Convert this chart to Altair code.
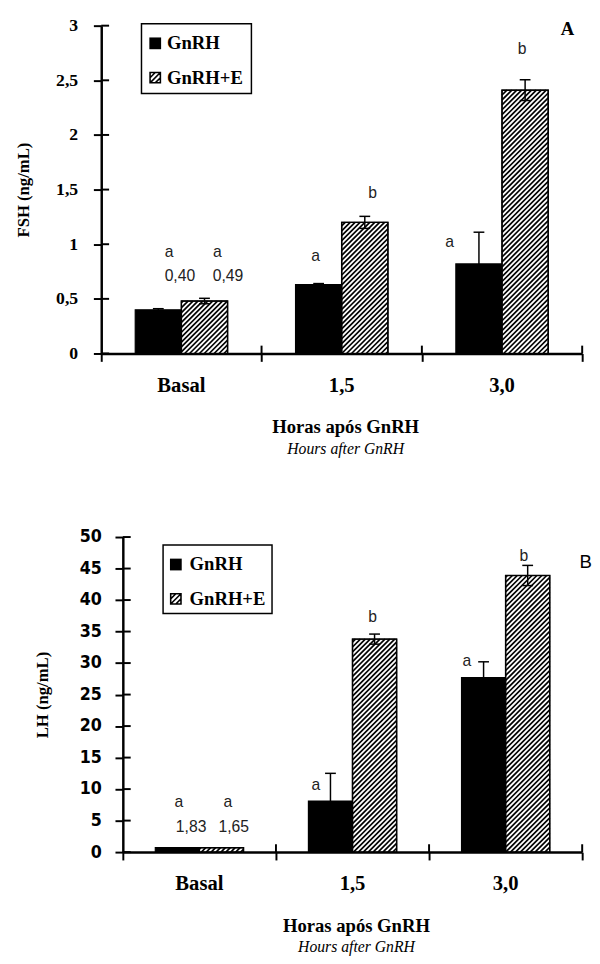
import math
import altair as alt
import pandas as pd

# ---------------- data ----------------
categories = ["Basal", "1,5", "3,0"]
groups = ["GnRH", "GnRH+E"]

fsh_gnrh = [0.40, 0.63, 0.82]
fsh_gnrh_err = [0.01, 0.01, 0.29]
fsh_gnrhe = [0.48, 1.20, 2.41]
fsh_gnrhe_err = [0.025, 0.055, 0.095]
fsh_letters_gnrh = ["a", "a", "a"]
fsh_letters_gnrhe = ["a", "b", "b"]
fsh_letter_y_gnrh = [0.93, 0.89, 1.02]
fsh_letter_y_gnrhe = [0.93, 1.47, 2.79]
fsh_basal_means = ["0,40", "0,49"]
fsh_basal_mean_y = 0.71
fsh_ticks = [0, 0.5, 1, 1.5, 2, 2.5, 3]

lh_gnrh = [0.7, 8.1, 27.7]
lh_gnrh_err = [0, 4.4, 2.5]
lh_gnrhe = [0.7, 33.8, 43.9]
lh_gnrhe_err = [0, 0.8, 1.6]
lh_letters_gnrh = ["a", "a", "a"]
lh_letters_gnrhe = ["a", "b", "b"]
lh_letter_y_gnrh = [7.9, 10.7, 30.3]
lh_letter_y_gnrhe = [7.9, 37.3, 47.0]
lh_basal_means = ["1,83", "1,65"]
lh_basal_mean_y = 4.0
lh_ticks = [0, 5, 10, 15, 20, 25, 30, 35, 40, 45, 50]

x_title = "Horas após GnRH"
x_subtitle = "Hours after GnRH"

# ---------------- styling / layout ----------------
SERIF = "Liberation Serif"
SANS = "Liberation Sans"
NARROW = "Liberation Sans Narrow, Arial Narrow, DejaVu Sans Condensed, sans-serif"
BAR_W = 0.288          # bar width as fraction of a category
PERIOD = 5.0           # hatch period, px
W = 490


def panel(gnrh, gnrh_err, gnrhe, gnrhe_err, let_g, let_e, ly_g, ly_e,
          basal_means, basal_mean_y, ticks, ymax, H, r0, ytitle, tag,
          tick_font, tick_size, letter_dx_g, letter_dx_e, mean_dx,
          leg, tag_pos, title_pad, label_pad):
    pxx = (W - r0) / 3.0
    pxy = H / ymax
    xs = alt.Scale(domain=[0, 3], range=[r0, W], nice=False, zero=False)
    ys = alt.Scale(domain=[0, ymax], nice=False)
    label_expr = "replace(format(datum.value, '~g'), '.', ',')"
    xax = alt.Axis(values=[0, 1, 2, 3], labels=False, title=None, grid=False,
                   tickSize=8, tickWidth=2, domainWidth=2.5,
                   domainColor="black", tickColor="black")
    yax = alt.Axis(values=ticks, labelExpr=label_expr, title=ytitle, grid=False,
                   tickSize=8, tickWidth=2, domainWidth=2.5, offset=-r0,
                   domainColor="black", tickColor="black",
                   labelFont=tick_font, labelFontSize=tick_size, labelFontWeight="bold",
                   labelColor="black", labelPadding=label_pad,
                   titleFont=SERIF, titleFontSize=17, titleFontWeight="bold",
                   titleColor="black", titlePadding=title_pad)

    def X(f):
        return alt.X(f, scale=xs, axis=xax)

    def Y(f):
        return alt.Y(f, scale=ys, axis=yax)

    rows = []
    for i, cat in enumerate(categories):
        for g, vals, errs, lets, lys, dxs in (
            ("GnRH", gnrh, gnrh_err, let_g, ly_g, letter_dx_g),
            ("GnRH+E", gnrhe, gnrhe_err, let_e, ly_e, letter_dx_e),
        ):
            x0 = i + 0.5 - BAR_W if g == "GnRH" else i + 0.5
            x1 = x0 + BAR_W
            xc = (x0 + x1) / 2
            v, e = vals[i], errs[i]
            rows.append(dict(cat=cat, group=g, x0=x0, x1=x1, xc=xc, v=v, e=e, zero=0.0,
                             lo=v - e, hi=v + e,
                             cl=xc - 5.5 / pxx, cr=xc + 5.5 / pxx,
                             letter=lets[i], ly=lys[i], lx=xc + dxs[i] / pxx))
    df = pd.DataFrame(rows)

    # hatch segments (45 degree "/" lines) for GnRH+E bars
    segs = []
    for r in rows:
        if r["group"] != "GnRH+E":
            continue
        X0, X1, Ht = r["x0"] * pxx, r["x1"] * pxx, r["v"] * pxy
        k0 = math.ceil((X0 - Ht) / PERIOD)
        k1 = math.floor(X1 / PERIOD)
        for k in range(k0, k1 + 1):
            c = k * PERIOD
            xa, xb = max(X0, c), min(X1, c + Ht)
            if xb - xa > 0.3:
                segs.append(dict(x=xa / pxx, y=(xa - c) / pxy,
                                 x2=xb / pxx, y2=(xb - c) / pxy))
    hdf = pd.DataFrame(segs)

    base = alt.Chart(df)
    bars = base.mark_bar(stroke="black", strokeWidth=1.2).encode(
        x=X("x0:Q"), x2="x1:Q", y=Y("v:Q"), y2="zero:Q",
        fill=alt.Fill("group:N", scale=alt.Scale(domain=groups, range=["black", "white"]),
                      legend=None),
    )
    hatch = alt.Chart(hdf).mark_rule(color="black", strokeWidth=1.7).encode(
        x=X("x:Q"), y=Y("y:Q"), x2="x2:Q", y2="y2:Q")
    outline = base.transform_filter(alt.datum.group == "GnRH+E").mark_bar(
        fillOpacity=0, stroke="black", strokeWidth=1.5).encode(
        x=X("x0:Q"), x2="x1:Q", y=Y("v:Q"), y2="zero:Q")
    errdf = base.transform_filter(alt.datum.e > 0)
    err = errdf.mark_rule(color="black", strokeWidth=1.5).encode(
        x=X("xc:Q"), y=Y("lo:Q"), y2="hi:Q")
    cap_hi = errdf.mark_rule(color="black", strokeWidth=1.5).encode(
        x=X("cl:Q"), x2="cr:Q", y=Y("hi:Q"))
    cap_lo = errdf.mark_rule(color="black", strokeWidth=1.5).encode(
        x=X("cl:Q"), x2="cr:Q", y=Y("lo:Q"))
    letters = base.mark_text(font=SANS, fontSize=16, color="#222",
                             baseline="middle").encode(
        x=X("lx:Q"), y=Y("ly:Q"), text="letter:N")

    mdf = pd.DataFrame(dict(t=basal_means, x=[rows[0]["xc"] + mean_dx[0] / pxx,
                                               rows[1]["xc"] + mean_dx[1] / pxx],
                            y=[basal_mean_y] * 2))
    means = alt.Chart(mdf).mark_text(font=SANS, fontSize=16, color="#222",
                                     baseline="middle").encode(
        x=X("x:Q"), y=Y("y:Q"), text="t:N")

    tdf = pd.DataFrame(dict(t=ticks))
    inner_y = alt.Chart(tdf).mark_rule(color="black", strokeWidth=2).encode(
        x=alt.value(r0), x2=alt.value(r0 + 8), y=Y("t:Q"))
    bdf = pd.DataFrame(dict(b=[1, 2, 3]))
    inner_x = alt.Chart(bdf).mark_rule(color="black", strokeWidth=2).encode(
        x=X("b:Q"), y=alt.value(H - 8), y2=alt.value(H))

    cdf = pd.DataFrame(dict(c=categories, x=[0.5, 1.5, 2.5]))
    cat_labels = alt.Chart(cdf).mark_text(font=SERIF, fontSize=21, fontWeight="bold",
                                          baseline="middle", color="black").encode(
        x=X("x:Q"), y=alt.value(H + 33), text="c:N")

    xmid = (r0 + W) / 2 + 4
    xt = alt.Chart(pd.DataFrame(dict(t=[x_title]))).mark_text(
        font=SERIF, fontSize=19, fontWeight="bold", baseline="middle", color="black").encode(
        x=alt.value(xmid), y=alt.value(H + 75), text="t:N")
    xst = alt.Chart(pd.DataFrame(dict(t=[x_subtitle]))).mark_text(
        font=SERIF, fontSize=16, fontStyle="italic", baseline="middle", color="black").encode(
        x=alt.value(xmid), y=alt.value(H + 97), text="t:N")

    lx0, lx1, ly0, ly1, sqx, tx, y1, y2 = leg
    box = alt.Chart(pd.DataFrame(dict(k=[0]))).mark_rect(
        fill="white", stroke="black", strokeWidth=1.5).encode(
        x=alt.value(lx0), x2=alt.value(lx1), y=alt.value(ly0), y2=alt.value(ly1))
    sq1 = alt.Chart(pd.DataFrame(dict(g=[groups[0]]))).mark_point(
        shape="square", filled=True, color="black", size=144, opacity=1).encode(
        x=alt.value(sqx), y=alt.value(y1))
    sq2 = alt.Chart(pd.DataFrame(dict(g=[groups[1]]))).mark_point(
        shape="M-1,-1H1V1H-1Z M-1,0L0,-1 M-1,1L1,-1 M0,1L1,0",
        filled=False, color="black", strokeWidth=1.6, size=110, opacity=1).encode(
        x=alt.value(sqx), y=alt.value(y2))
    t1 = alt.Chart(pd.DataFrame(dict(g=[groups[0]]))).mark_text(
        font=SERIF, fontSize=19, fontWeight="bold", align="left", baseline="middle",
        color="black").encode(x=alt.value(tx), y=alt.value(y1), text="g:N")
    t2 = alt.Chart(pd.DataFrame(dict(g=[groups[1]]))).mark_text(
        font=SERIF, fontSize=19, fontWeight="bold", align="left", baseline="middle",
        color="black").encode(x=alt.value(tx), y=alt.value(y2), text="g:N")

    tagx, tagy, tagfont, tagweight, tagalign = tag_pos
    tagc = alt.Chart(pd.DataFrame(dict(t=[tag]))).mark_text(
        font=tagfont, fontSize=19, fontWeight=tagweight, align=tagalign,
        baseline="middle", color="black").encode(
        x=alt.value(tagx), y=alt.value(tagy), text="t:N")

    return alt.layer(bars, hatch, outline, err, cap_hi, cap_lo, letters, means,
                     inner_y, inner_x, cat_labels, xt, xst, box, sq1, sq2, t1, t2,
                     tagc).properties(width=W, height=H)


top = panel(fsh_gnrh, fsh_gnrh_err, fsh_gnrhe, fsh_gnrhe_err,
            fsh_letters_gnrh, fsh_letters_gnrhe, fsh_letter_y_gnrh, fsh_letter_y_gnrhe,
            fsh_basal_means, fsh_basal_mean_y, fsh_ticks, 3, 334, 0, "FSH (ng/mL)", "A",
            SERIF, 18, [11, -3, -30], [13, 8, -3], [22, 24],
            (41, 153, -2, 69, 55, 67, 18, 53), (475, 3, SERIF, "bold", "center"),
            24, 16)

bottom = panel(lh_gnrh, lh_gnrh_err, lh_gnrhe, lh_gnrhe_err,
               lh_letters_gnrh, lh_letters_gnrhe, lh_letter_y_gnrh, lh_letter_y_gnrhe,
               lh_basal_means, lh_basal_mean_y, lh_ticks, 50, 321, 22, "LH (ng/mL)", "B",
               NARROW, 18, [1.5, -15, -17], [6.5, -2, -4], [14, 12.5],
               (63, 174, 8, 78, 76, 90, 28, 63), (500, 26, SANS, "normal", "right"),
               28, 14)

chart = alt.vconcat(top, bottom, spacing=73).properties(
    padding={"left": 6, "top": 0, "right": 0, "bottom": 0}
).configure_view(stroke=None)

chart.save("out.html", embed_options={"renderer": "svg", "actions": False})
